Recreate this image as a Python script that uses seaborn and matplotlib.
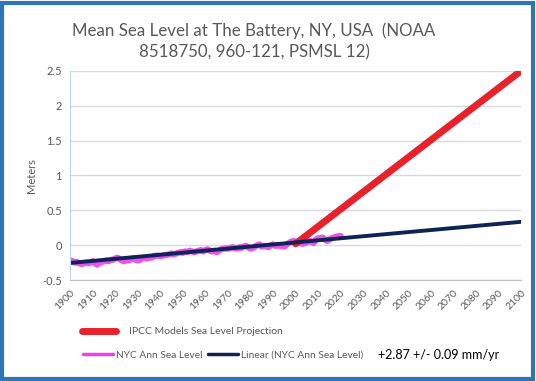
import numpy as np
import pandas as pd
import seaborn as sns
import matplotlib.pyplot as plt
from matplotlib.lines import Line2D
from matplotlib.patches import Rectangle

# annual mean sea level at The Battery (m)
years = list(range(1900, 2021))
sea_level = [
    -0.22, -0.23, -0.25, -0.24, -0.26, -0.27, -0.26, -0.25, -0.26, -0.25,
    -0.23, -0.26, -0.28, -0.25, -0.24, -0.23, -0.22, -0.23, -0.21, -0.21,
    -0.19, -0.18, -0.20, -0.22, -0.23, -0.21, -0.22, -0.20, -0.19, -0.21,
    -0.22, -0.21, -0.19, -0.18, -0.19, -0.17, -0.18, -0.16, -0.15, -0.15,
    -0.16, -0.15, -0.14, -0.14, -0.13, -0.12, -0.13, -0.12, -0.11, -0.10,
    -0.11, -0.09, -0.10, -0.08, -0.09, -0.10, -0.09, -0.08, -0.07, -0.09,
    -0.07, -0.06, -0.08, -0.09, -0.08, -0.10, -0.08, -0.06, -0.05, -0.05,
    -0.05, -0.04, -0.03, -0.04, -0.05, -0.03, -0.04, -0.02, -0.01, -0.03,
    -0.05, -0.04, -0.02, 0.00, 0.01, -0.02, -0.01, -0.02, -0.03, 0.00,
    0.01, -0.01, 0.00, -0.01, 0.00, -0.02, 0.01, 0.03, 0.05, 0.06,
    0.05, 0.03, 0.04, 0.02, 0.03, 0.04, 0.06, 0.05, 0.03, 0.08,
    0.10, 0.09, 0.11, 0.08, 0.06, 0.08, 0.10, 0.11, 0.12, 0.13,
    0.13,
]
trend_years = [1900, 2100]
trend_level = [-0.255, 0.335]
ipcc_years = [2000, 2100]
ipcc_level = [0.02, 2.5]

obs = pd.DataFrame({"year": years, "level": sea_level})
trend = pd.DataFrame({"year": trend_years, "level": trend_level})
ipcc = pd.DataFrame({"year": ipcc_years, "level": ipcc_level})

sns.set_style("white")
plt.rcParams["font.family"] = ["Lato", "DejaVu Sans"]
grey = "#595959"

fig = plt.figure(figsize=(5.36, 3.81), dpi=100)
ax = fig.add_axes([0.131, 0.265, 0.841, 0.549])

sns.lineplot(data=obs, x="year", y="level", ax=ax, color="#EE3FEE", lw=4.5, alpha=0.9)
sns.lineplot(data=ipcc, x="year", y="level", ax=ax, color="#E8212B", lw=5,
             solid_capstyle="round")
sns.lineplot(data=trend, x="year", y="level", ax=ax, color="#0E2356", lw=2.8)

ax.set_xlim(1900, 2100)
ax.set_ylim(-0.5, 2.5)
ax.set_yticks(np.arange(-0.5, 2.51, 0.5))
ax.set_yticklabels(["-0.5", "0", "0.5", "1", "1.5", "2", "2.5"])
ax.set_xticks(range(1900, 2101, 10))
ax.tick_params(axis="x", labelrotation=45, labelsize=7.5, colors="#BFBFBF",
               labelcolor=grey, direction="out", length=5, width=1, pad=1)
for lbl in ax.get_xticklabels():
    lbl.set_ha("right")
    lbl.set_rotation_mode("anchor")
ax.tick_params(axis="y", labelsize=8, labelcolor=grey, length=0, pad=6)
ax.grid(axis="y", color="#D9D9D9", lw=1)
for s in ["top", "right"]:
    ax.spines[s].set_visible(False)
ax.spines["left"].set_color("#BDD7EE")
ax.spines["bottom"].set_color("#BFBFBF")
ax.set_xlabel("")
ax.set_ylabel("Meters", fontsize=8, color=grey, labelpad=4)

fig.suptitle("Mean Sea Level at The Battery, NY, USA  (NOAA\n8518750, 960-121, PSMSL 12)",
             x=0.474, y=0.94, fontsize=12.2, color=grey, linespacing=1.35)

h1 = [Line2D([], [], color="#E8212B", lw=5, solid_capstyle="round")]
fig.legend(h1, ["IPCC Models Sea Level Projection"], loc="center left",
           bbox_to_anchor=(0.135, 0.129), frameon=False, fontsize=7.5,
           handlelength=3.3, handletextpad=1.2, labelcolor=grey)
h2 = [Line2D([], [], color="#EE3FEE", lw=2.5), Line2D([], [], color="#0E2356", lw=2.5)]
fig.legend(h2, ["NYC Ann Sea Level", "Linear (NYC Ann Sea Level)"], loc="center left",
           bbox_to_anchor=(0.137, 0.068), frameon=False, fontsize=7.3, ncol=2,
           handlelength=3.0, handletextpad=0.3, columnspacing=0.5, labelcolor=grey)
fig.text(0.705, 0.068, "+2.87 +/- 0.09 mm/yr", fontsize=9, color="black", va="center")

fig.patches.append(Rectangle((0.004, 0.005), 0.99, 0.988, transform=fig.transFigure,
                             fill=False, edgecolor="#2E75B6", lw=3, figure=fig))

fig.savefig("out.png", dpi=100)
